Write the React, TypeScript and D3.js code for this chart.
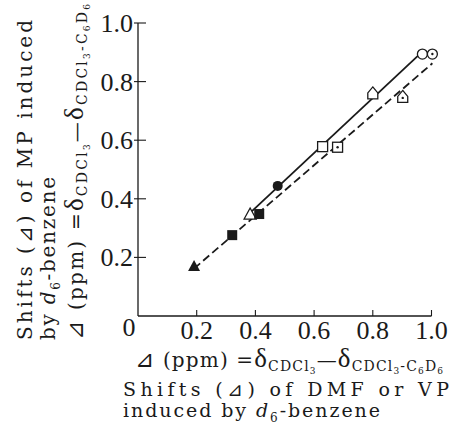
import React from "react";
import * as d3 from "d3";

const W = 449;
const H = 434;

const xTicks = [0.2, 0.4, 0.6, 0.8, 1.0];
const yTicks = [0.2, 0.4, 0.6, 0.8, 1.0];
const tickLabels = ["0.2", "0.4", "0.6", "0.8", "1.0"];

// Solid-line series (open / filled symbols)
const solidX = [0.382, 0.476, 0.629, 0.8, 0.969];
const solidY = [0.348, 0.444, 0.578, 0.758, 0.894];
const solidMarkers = ["triangleOpen", "circleFilled", "squareOpen", "houseOpen", "circleOpen"];

// Dashed-line series
const dashedX = [0.191, 0.321, 0.413, 0.68, 0.902, 1.003];
const dashedY = [0.171, 0.276, 0.348, 0.576, 0.746, 0.894];
const dashedMarkers = ["triangleFilled", "squareFilled", "squareFilled", "squareDot", "houseDot", "circleDot"];

const xScale = d3.scaleLinear().domain([0, 1]).range([138, 431.5]);
const yScale = d3.scaleLinear().domain([0, 1]).range([316, 23]);

const TICKFONT = "'Liberation Serif', serif";
const TITLEFONT = "'DejaVu Serif', 'Liberation Serif', serif";
const INK = "#1a1a1a";

function fit(xs: number[], ys: number[]) {
  const mx = d3.mean(xs)!;
  const my = d3.mean(ys)!;
  let num = 0, den = 0;
  xs.forEach((x, i) => {
    num += (x - mx) * (ys[i] - my);
    den += (x - mx) * (x - mx);
  });
  const b = num / den;
  const a = my - b * mx;
  const x0 = d3.min(xs)!;
  const x1 = d3.max(xs)!;
  return [
    [x0, a + b * x0],
    [x1, a + b * x1],
  ] as [number, number][];
}

function Marker({ type, x, y }: { type: string; x: number; y: number }) {
  const s = 5;
  const sw = 1.3;
  const t = `translate(${x},${y})`;
  const house = `M0,${-s - 2}L${s},${-1}L${s},${s}L${-s},${s}L${-s},${-1}Z`;
  const tri = `M0,${-s - 1}L${s + 1},${s}L${-s - 1},${s}Z`;
  switch (type) {
    case "circleOpen":
      return <circle transform={t} r={s} fill="#fff" stroke={INK} strokeWidth={sw} />;
    case "circleFilled":
      return <circle transform={t} r={s} fill={INK} />;
    case "circleDot":
      return (
        <g transform={t}>
          <circle r={s} fill="#fff" stroke={INK} strokeWidth={sw} />
          <circle r={1.2} fill={INK} />
        </g>
      );
    case "squareOpen":
      return <rect transform={t} x={-s} y={-s} width={2 * s} height={2 * s} fill="#fff" stroke={INK} strokeWidth={sw} />;
    case "squareFilled":
      return <rect transform={t} x={-s} y={-s} width={2 * s} height={2 * s} fill={INK} />;
    case "squareDot":
      return (
        <g transform={t}>
          <rect x={-s} y={-s} width={2 * s} height={2 * s} fill="#fff" stroke={INK} strokeWidth={sw} />
          <circle r={1.2} fill={INK} />
        </g>
      );
    case "triangleOpen":
      return <path transform={t} d={tri} fill="#fff" stroke={INK} strokeWidth={sw} />;
    case "triangleFilled":
      return <path transform={t} d={tri} fill={INK} />;
    case "houseOpen":
      return <path transform={t} d={house} fill="#fff" stroke={INK} strokeWidth={sw} />;
    case "houseDot":
      return (
        <g transform={t}>
          <path d={house} fill="#fff" stroke={INK} strokeWidth={sw} />
          <circle cx={0} cy={0.5} r={1.2} fill={INK} />
        </g>
      );
    default:
      return null;
  }
}

function DeltaExpr() {
  return (
    <>
      <tspan fontFamily="'DejaVu Sans', 'Noto Sans CJK JP'" fontStyle="italic" fontSize={23}>⊿</tspan>
      <tspan> (ppm) =</tspan>
      <tspan fontSize={27} fontFamily={TICKFONT}>δ</tspan>
      <tspan fontSize={14} dy={4}>CDCl</tspan>
      <tspan fontSize={9} dy={3}>3</tspan>
      <tspan fontSize={20} dy={-7}>—</tspan>
      <tspan fontSize={27} fontFamily={TICKFONT}>δ</tspan>
      <tspan fontSize={14} dy={4}>CDCl</tspan>
      <tspan fontSize={9} dy={3}>3</tspan>
      <tspan fontSize={14} dy={-3}>-C</tspan>
      <tspan fontSize={9} dy={3}>6</tspan>
      <tspan fontSize={14} dy={-3}>D</tspan>
      <tspan fontSize={9} dy={3}>6</tspan>
    </>
  );
}

function D6Benzene() {
  return (
    <>
      <tspan fontStyle="italic">d</tspan>
      <tspan fontSize={12} dy={5}>6</tspan>
      <tspan dy={-5}>-benzene</tspan>
    </>
  );
}

export default function App() {
  const lineGen = d3
    .line<[number, number]>()
    .x((d) => xScale(d[0]))
    .y((d) => yScale(d[1]));
  const solidFit = fit(solidX, solidY);
  const dashedFit = fit(dashedX, dashedY);

  return (
    <svg
      width={W}
      height={H}
      style={{ position: "absolute", left: 0, top: 0, background: "#fff" }}
      fill={INK}
    >
      <rect width={W} height={H} fill="#fff" />
      {/* axes */}
      <line x1={xScale(0)} x2={xScale(0)} y1={yScale(1)} y2={yScale(0)} stroke={INK} strokeWidth={1.3} />
      <line x1={xScale(0)} x2={xScale(1)} y1={yScale(0)} y2={yScale(0)} stroke={INK} strokeWidth={1.3} />
      <g style={{ fontFamily: TICKFONT }}>
        {yTicks.map((v, i) => (
          <g key={"yt" + i}>
            <line x1={xScale(0) - 4} x2={xScale(0) + 8} y1={yScale(v)} y2={yScale(v)} stroke={INK} strokeWidth={1.1} />
            <text x={xScale(0) - 5} y={yScale(v) + 9} textAnchor="end" fontSize={26}>
              {tickLabels[i]}
            </text>
          </g>
        ))}
        {xTicks.map((v, i) => (
          <g key={"xt" + i}>
            <line x1={xScale(v)} x2={xScale(v)} y1={yScale(0)} y2={yScale(0) - 6} stroke={INK} strokeWidth={1.1} />
            <text x={xScale(v)} y={339} textAnchor="middle" fontSize={26}>
              {tickLabels[i]}
            </text>
          </g>
        ))}
        <text x={xScale(0) - 9} y={336} textAnchor="middle" fontSize={26}>
          0
        </text>
      </g>

      {/* fit lines */}
      <path d={lineGen(solidFit)!} fill="none" stroke={INK} strokeWidth={1.8} />
      <path d={lineGen(dashedFit)!} fill="none" stroke={INK} strokeWidth={1.8} strokeDasharray="8,4" />

      {/* markers */}
      {solidX.map((x, i) => (
        <Marker key={"s" + i} type={solidMarkers[i]} x={xScale(x)} y={yScale(solidY[i])} />
      ))}
      {dashedX.map((x, i) => (
        <Marker key={"d" + i} type={dashedMarkers[i]} x={xScale(x)} y={yScale(dashedY[i])} />
      ))}

      <g style={{ fontFamily: TITLEFONT }}>
        {/* x axis title */}
        <text x={135} y={367} fontSize={20} textLength={308} lengthAdjust="spacing">
          <DeltaExpr />
        </text>
        <text x={123} y={396} fontSize={19} textLength={326} lengthAdjust="spacing">
          Shifts (⊿) of DMF or VP
        </text>
        <text x={123} y={417} fontSize={19} textLength={257} lengthAdjust="spacing">
          induced by <D6Benzene />
        </text>

        {/* y axis title (rotated) */}
        <text transform="translate(32,340) rotate(-90)" fontSize={20} textLength={320} lengthAdjust="spacing">
          Shifts (⊿) of MP induced
        </text>
        <text transform="translate(55,340) rotate(-90)" fontSize={20} textLength={163} lengthAdjust="spacing">
          by <D6Benzene />
        </text>
        <text transform="translate(83,340) rotate(-90)" fontSize={20} textLength={336} lengthAdjust="spacing">
          <DeltaExpr />
        </text>
      </g>
    </svg>
  );
}
